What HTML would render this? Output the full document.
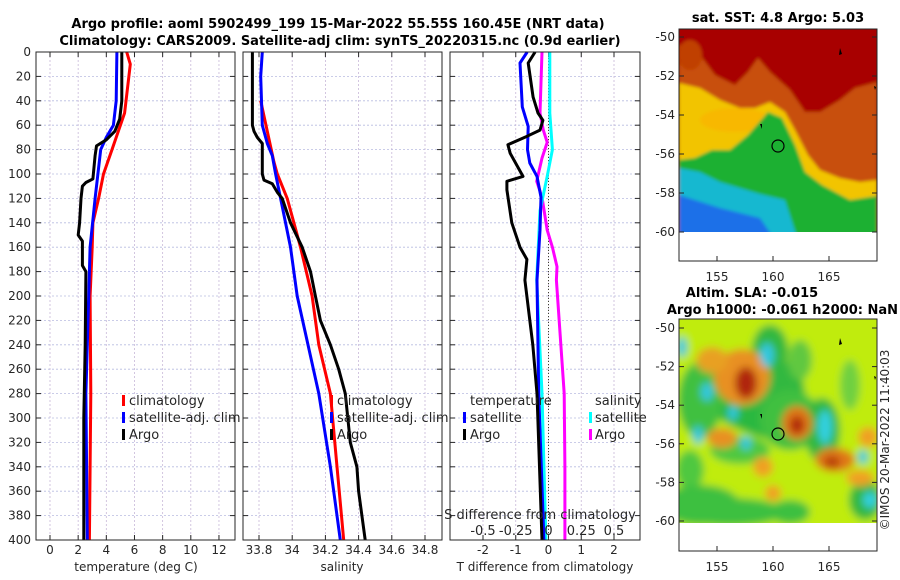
<!DOCTYPE html>
<html><head><meta charset="utf-8">
<style>
body{margin:0;background:#fff;}
svg{display:block;font-family:"DejaVu Sans","Liberation Sans",sans-serif;}
.tk{font-size:12px;fill:#262626;}
.tt{font-size:13px;font-weight:bold;fill:#000;}
.lg{font-size:13px;fill:#262626;}
</style></head>
<body>
<svg id="fig" width="900" height="580" viewBox="0 0 900 580">
<defs>
<filter id="bl" x="-20%" y="-20%" width="140%" height="140%"><feGaussianBlur stdDeviation="1.5"/></filter>
<filter id="bl2" x="-30%" y="-30%" width="160%" height="160%"><feGaussianBlur stdDeviation="4"/></filter>
<clipPath id="c1"><rect x="679" y="29" width="198" height="203"/></clipPath>
<clipPath id="c2"><rect x="679" y="319" width="198" height="204"/></clipPath>
</defs>
<text class="tt" x="338" y="28" text-anchor="middle">Argo profile: aoml 5902499_199 15-Mar-2022 55.55S 160.45E (NRT data)</text>
<text class="tt" x="340" y="45" text-anchor="middle">Climatology: CARS2009. Satellite-adj clim: synTS_20220315.nc (0.9d earlier)</text>

<!-- SST map -->
<g>
<text class="tt" x="778" y="22" text-anchor="middle">sat. SST: 4.8 Argo: 5.03</text>
<g clip-path="url(#c1)" filter="url(#bl)">
<rect x="670" y="20" width="220" height="220" fill="#a80000"/>
<polygon fill="#c85008" points="679,45 700,55 715,75 735,85 748,72 758,58 770,72 790,90 805,112 820,112 840,100 855,88 877,82 877,240 679,240"/>
<ellipse cx="690" cy="55" rx="12" ry="15" fill="#c04000"/>
<polygon fill="#f2c400" points="679,83 700,88 720,100 740,108 755,108 770,102 785,112 795,130 808,155 820,170 840,178 860,182 877,180 877,240 679,240"/>
<ellipse cx="735" cy="120" rx="35" ry="12" fill="#f8b800"/>
<polygon fill="#1cb030" points="679,160 695,158 712,150 730,150 748,135 768,112 782,118 795,145 805,172 822,185 850,200 877,196 877,240 679,240"/>
<polygon fill="#18b8d0" points="679,168 700,172 720,182 740,188 760,194 785,200 798,240 679,240"/>
<polygon fill="#1a70e8" points="679,195 720,208 760,218 775,240 679,240"/>
</g>
<circle cx="778" cy="146" r="6" fill="none" stroke="#000" stroke-width="1.2"/>
<path d="M840,48 l2,6 l-3,1z M760,124 l2,0 l0,5z M874,86 l2,1 l-1,3z" fill="#000"/>
<rect x="679" y="29" width="198" height="232" fill="none" stroke="#262626"/>
</g>

<!-- SLA map -->
<g>
<text class="tt" x="752" y="297" text-anchor="middle">Altim. SLA: -0.015</text>
<text class="tt" x="898" y="314" text-anchor="end">Argo h1000: -0.061 h2000: NaN</text>
<g clip-path="url(#c2)" filter="url(#bl2)">
<rect x="670" y="310" width="220" height="220" fill="#c0ec10"/>
<ellipse cx="745" cy="410" rx="60" ry="20" transform="rotate(25 745 410)" fill="#2cb840"/>
<ellipse cx="700" cy="400" rx="22" ry="38" fill="#40c040"/>
<ellipse cx="780" cy="395" rx="25" ry="35" fill="#30b840"/>
<ellipse cx="740" cy="450" rx="30" ry="14" fill="#50c840"/>
<ellipse cx="690" cy="470" rx="14" ry="20" fill="#50c840"/>
<ellipse cx="730" cy="512" rx="55" ry="14" fill="#3cc040"/>
<ellipse cx="800" cy="360" rx="12" ry="20" fill="#60c840"/>
<ellipse cx="850" cy="385" rx="10" ry="25" fill="#70d040"/>
<ellipse cx="790" cy="420" rx="30" ry="30" fill="#40c040"/>
<ellipse cx="770" cy="350" rx="18" ry="25" fill="#30b840"/>
<ellipse cx="822" cy="430" rx="18" ry="32" fill="#30b840"/>
<ellipse cx="700" cy="505" rx="40" ry="20" fill="#3cc040"/>
<ellipse cx="790" cy="512" rx="20" ry="12" fill="#3cc040"/>
<ellipse cx="865" cy="500" rx="16" ry="20" fill="#30b840"/>
<ellipse cx="742" cy="377" rx="28" ry="28" fill="#e89020"/>
<ellipse cx="746" cy="383" rx="11" ry="16" fill="#b02810"/>
<ellipse cx="712" cy="360" rx="16" ry="13" fill="#e8a020"/>
<ellipse cx="797" cy="423" rx="15" ry="17" fill="#e07818"/>
<ellipse cx="797" cy="425" rx="7" ry="9" fill="#b02810"/>
<ellipse cx="835" cy="460" rx="20" ry="12" fill="#e07818"/>
<ellipse cx="832" cy="462" rx="8" ry="6" fill="#b84010"/>
<ellipse cx="722" cy="438" rx="15" ry="10" fill="#e89020"/>
<ellipse cx="763" cy="467" rx="10" ry="10" fill="#f0a020"/>
<ellipse cx="773" cy="493" rx="8" ry="8" fill="#f0a020"/>
<ellipse cx="868" cy="437" rx="10" ry="10" fill="#f0a020"/>
<ellipse cx="860" cy="478" rx="14" ry="8" fill="#f0a020"/>
<ellipse cx="767" cy="355" rx="7" ry="12" fill="#30c8e0"/>
<ellipse cx="707" cy="392" rx="6" ry="9" fill="#30c8e0"/>
<ellipse cx="733" cy="413" rx="5" ry="7" fill="#30c8e0"/>
<ellipse cx="682" cy="347" rx="5" ry="10" fill="#30c8e0"/>
<ellipse cx="825" cy="427" rx="7" ry="17" fill="#30d0e0"/>
<ellipse cx="698" cy="435" rx="5" ry="9" fill="#30c8e0"/>
<ellipse cx="746" cy="443" rx="5" ry="7" fill="#30c8e0"/>
<ellipse cx="863" cy="457" rx="5" ry="7" fill="#30c8e0"/>
<ellipse cx="870" cy="500" rx="7" ry="8" fill="#30d0e0"/>
</g>
<circle cx="778" cy="434" r="6" fill="none" stroke="#000" stroke-width="1.2"/>
<path d="M840,338 l2,6 l-3,1z M760,414 l2,0 l0,5z M874,376 l2,1 l-1,3z" fill="#000"/>
<rect x="679" y="319" width="198" height="232" fill="none" stroke="#262626"/>
</g>
<text class="tk" transform="translate(889,440) rotate(-90)" text-anchor="middle">©IMOS 20-Mar-2022 11:40:03</text>
<g id="dyn"></g>
</svg>
<script>
// ----- data -----
var depthTicks = [0,20,40,60,80,100,120,140,160,180,200,220,240,260,280,300,320,340,360,380,400];
var tempTicks = [0,2,4,6,8,10,12];
var salTicks = [33.8,34,34.2,34.4,34.6,34.8];
var salTickLabels = ["33.8","34","34.2","34.4","34.6","34.8"];
var tdiffTicks = [-2,-1,0,1,2];
var sdiffTicks = [-0.5,-0.25,0,0.25,0.5];
var sdiffTickLabels = ["-0.5","-0.25","0","0.25","0.5"];
var mapLatTicks = [-50,-52,-54,-56,-58,-60];
var mapLonTicks = [155,160,165];

var tClimDepth = [0,10,50,60,80,100,120,140,160,200,280,400];
var tClimVal   = [5.45,5.7,5.3,5.0,4.4,3.8,3.45,3.05,3.0,2.85,2.9,2.8];
var tSatDepth  = [0,40,60,70,80,100,120,160,280,400];
var tSatVal    = [4.75,4.7,4.5,4.0,3.6,3.4,3.2,2.85,2.55,2.65];
var tArgoDepth = [0,40,55,65,72,77,85,104,107,110,120,140,150,155,175,180,240,300,400];
var tArgoVal   = [5.1,5.1,4.95,4.6,4.0,3.3,3.2,3.05,2.55,2.3,2.2,2.1,2.0,2.3,2.3,2.55,2.5,2.4,2.4];

var sClimDepth = [40,90,100,120,140,160,200,240,280,340,400];
var sClimVal   = [33.81,33.89,33.91,33.97,34.01,34.05,34.12,34.16,34.23,34.27,34.31];
var sSatDepth  = [0,20,60,75,85,100,120,160,200,280,340,400];
var sSatVal    = [33.82,33.81,33.82,33.85,33.88,33.90,33.93,33.99,34.03,34.16,34.23,34.29];
var sArgoDepth = [0,60,65,70,75,100,105,108,115,120,140,160,180,200,220,240,260,280,320,340,360,380,400];
var sArgoVal   = [33.76,33.76,33.77,33.79,33.82,33.82,33.83,33.88,33.91,33.94,33.99,34.06,34.11,34.14,34.17,34.23,34.28,34.32,34.35,34.39,34.40,34.42,34.44];

var dTSatDepth = [0,9,45,61,80,91,102,119,146,187,280,400];
var dTSatVal   = [-0.65,-0.87,-0.8,-0.62,-0.64,-0.57,-0.35,-0.23,-0.26,-0.35,-0.3,-0.14];
var dTArgoDepth = [0,9,37,50,56,64,69,76,83,102,106,113,140,160,170,187,240,280,400];
var dTArgoVal   = [-0.41,-0.62,-0.47,-0.32,-0.17,-0.26,-0.65,-1.24,-1.17,-0.78,-1.27,-1.27,-1.12,-0.87,-0.66,-0.72,-0.48,-0.35,-0.2];
var dSSatDepth = [0,50,80,102,130,187,280,400];
var dSSatVal   = [0.01,0.01,0.03,-0.01,-0.065,-0.09,-0.05,-0.02];
var dSArgoDepth = [0,50,64,74,87,106,119,146,160,176,187,280,340,400];
var dSArgoVal   = [-0.05,-0.065,-0.04,-0.01,-0.05,-0.09,-0.05,-0.01,0.03,0.065,0.06,0.12,0.125,0.125];

// ----- axes -----
var TOP=52, BOT=540;
function yD(d){return TOP+(d/400)*(BOT-TOP);}
var P1={l:36,r:235}, P2={l:243,r:442}, P3={l:450,r:640};
function xT(v){return 50+v*14.08;}
function xS(v){return 259+(v-33.8)*166;}
function xDT(v){return 548.5+v*32.75;}
function xDS(v){return 548.5+v*131;}

var NS="http://www.w3.org/2000/svg";
var root=document.getElementById('dyn');
function mk(tag,attrs,parent){var e=document.createElementNS(NS,tag);for(var k in attrs)e.setAttribute(k,attrs[k]);(parent||root).appendChild(e);return e;}

function panel(P,name,xticks,xf,labels){
  var g=mk('g',{});
  
  
  depthTicks.forEach(function(d){
    mk('line',{x1:P.l,x2:P.r,y1:yD(d),y2:yD(d),stroke:'#b8bce0','stroke-dasharray':'2,2','stroke-width':0.8},g);
    mk('line',{x1:P.l,x2:P.l+5,y1:yD(d),y2:yD(d),stroke:'#262626'},g);
    mk('line',{x1:P.r-5,x2:P.r,y1:yD(d),y2:yD(d),stroke:'#262626'},g);
  });
  xticks.forEach(function(v,i){
    var x=xf(v);
    mk('line',{x1:x,x2:x,y1:TOP,y2:BOT,stroke:'#c8b8d8','stroke-dasharray':'2,2','stroke-width':0.8},g);
    mk('line',{x1:x,x2:x,y1:BOT-5,y2:BOT,stroke:'#262626'},g);
    mk('line',{x1:x,x2:x,y1:TOP,y2:TOP+5,stroke:'#262626'},g);
    if(labels){var t=mk('text',{x:x,y:554,'text-anchor':'middle','class':'tk'},g);t.textContent=labels[i];
      
      }
  });
  return g;
}
function series(dep,val,xf,color,name,w){
  var pts=dep.map(function(d,i){return xf(val[i]).toFixed(1)+','+yD(d).toFixed(1);}).join(' ');
  var p=mk('polyline',{points:pts,fill:'none',stroke:color,'stroke-width':w||3,'stroke-linejoin':'round'});
  
  
}
function frame(P,name){
  var r=mk('rect',{x:P.l,y:TOP,width:P.r-P.l,height:BOT-TOP,fill:'none',stroke:'#262626'});
  
  
}
function txt(x,y,s,cls,anchor,name){
  var t=mk('text',{x:x,y:y,'class':cls,'text-anchor':anchor||'start'});t.textContent=s;
  
  
  return t;
}
function legMark(x,y,color,name){
  var r=mk('rect',{x:x,y:y-10,width:3,height:11,fill:color});
  
  
}

// panel 1
panel(P1,'temperature-panel',tempTicks,xT,tempTicks.map(String));
depthTicks.forEach(function(d){txt(31,yD(d)+4,String(d),'tk','end','y-tick-label');});
series(tClimDepth,tClimVal,xT,'#ff0000','temp-climatology-line');
series(tSatDepth,tSatVal,xT,'#0000ff','temp-satellite-line');
series(tArgoDepth,tArgoVal,xT,'#000000','temp-argo-line');
frame(P1,'temperature-panel-frame');
txt(136,571,'temperature (deg C)','tk','middle','temperature-x-axis-title');
legMark(122,405,'#ff0000','legend-climatology-marker');txt(129,405,'climatology','lg','start','legend-climatology');
legMark(122,422,'#0000ff','legend-satellite-marker');txt(129,422,'satellite-adj. clim','lg','start','legend-satellite');
legMark(122,439,'#000000','legend-argo-marker');txt(129,439,'Argo','lg','start','legend-argo');

// panel 2
panel(P2,'salinity-panel',salTicks,xS,salTickLabels);
series(sClimDepth,sClimVal,xS,'#ff0000','sal-climatology-line');
series(sSatDepth,sSatVal,xS,'#0000ff','sal-satellite-line');
series(sArgoDepth,sArgoVal,xS,'#000000','sal-argo-line');
frame(P2,'salinity-panel-frame');
txt(342,571,'salinity','tk','middle','salinity-x-axis-title');
legMark(330,405,'#ff0000','legend2-climatology-marker');txt(337,405,'climatology','lg','start','legend2-climatology');
legMark(330,422,'#0000ff','legend2-satellite-marker');txt(337,422,'satellite-adj. clim','lg','start','legend2-satellite');
legMark(330,439,'#000000','legend2-argo-marker');txt(337,439,'Argo','lg','start','legend2-argo');

// panel 3
panel(P3,'difference-panel',tdiffTicks,xDT,tdiffTicks.map(String));
var z=mk('line',{x1:548.5,x2:548.5,y1:TOP,y2:BOT,stroke:'#404030','stroke-dasharray':'1,2','stroke-width':1});


series(dSArgoDepth,dSArgoVal,xDS,'#ff00ff','sdiff-argo-line');
series(dSSatDepth,dSSatVal,xDS,'#00ffff','sdiff-satellite-line');
series(dTSatDepth,dTSatVal,xDT,'#0000ff','tdiff-satellite-line');
series(dTArgoDepth,dTArgoVal,xDT,'#000000','tdiff-argo-line');
frame(P3,'difference-panel-frame');
txt(545,571,'T difference from climatology','tk','middle','tdiff-x-axis-title');
txt(540,519,'S difference from climatology','lg','middle','sdiff-axis-title');
sdiffTicks.forEach(function(v,i){txt(xDS(v),535,sdiffTickLabels[i],'lg','middle','sdiff-tick-label');});
txt(470,405,'temperature','lg','start','legend3-temperature-heading');
legMark(463,422,'#0000ff','legend3-tsat-marker');txt(470,422,'satellite','lg','start','legend3-tsat');
legMark(463,439,'#000000','legend3-targo-marker');txt(470,439,'Argo','lg','start','legend3-targo');
txt(595,405,'salinity','lg','start','legend3-salinity-heading');
legMark(589,422,'#00ffff','legend3-ssat-marker');txt(595,422,'satellite','lg','start','legend3-ssat');
legMark(589,439,'#ff00ff','legend3-sargo-marker');txt(595,439,'Argo','lg','start','legend3-sargo');

// map ticks
function yLat1(v){return 37+(v+50)*(-19.5);}
function yLat2(v){return 328+(v+50)*(-19.3);}
function xLon(v){return 773+(v-160)*11.2;}
mapLatTicks.forEach(function(v){
  [[yLat1,'sst'],[yLat2,'sla']].forEach(function(m){
    var y=m[0](v);
    mk('line',{x1:679,x2:684,y1:y,y2:y,stroke:'#262626'});
    mk('line',{x1:872,x2:877,y1:y,y2:y,stroke:'#262626'});
    txt(675,y+4,String(v),'tk','end',m[1]+'-lat-tick-label');
  });
});
mapLonTicks.forEach(function(v){
  var x=xLon(v);
  mk('line',{x1:x,x2:x,y1:256,y2:261,stroke:'#262626'});
  mk('line',{x1:x,x2:x,y1:546,y2:551,stroke:'#262626'});
  txt(x,281,String(v),'tk','middle','sst-lon-tick-label');
  txt(x,571,String(v),'tk','middle','sla-lon-tick-label');
});
</script>
</body></html>
